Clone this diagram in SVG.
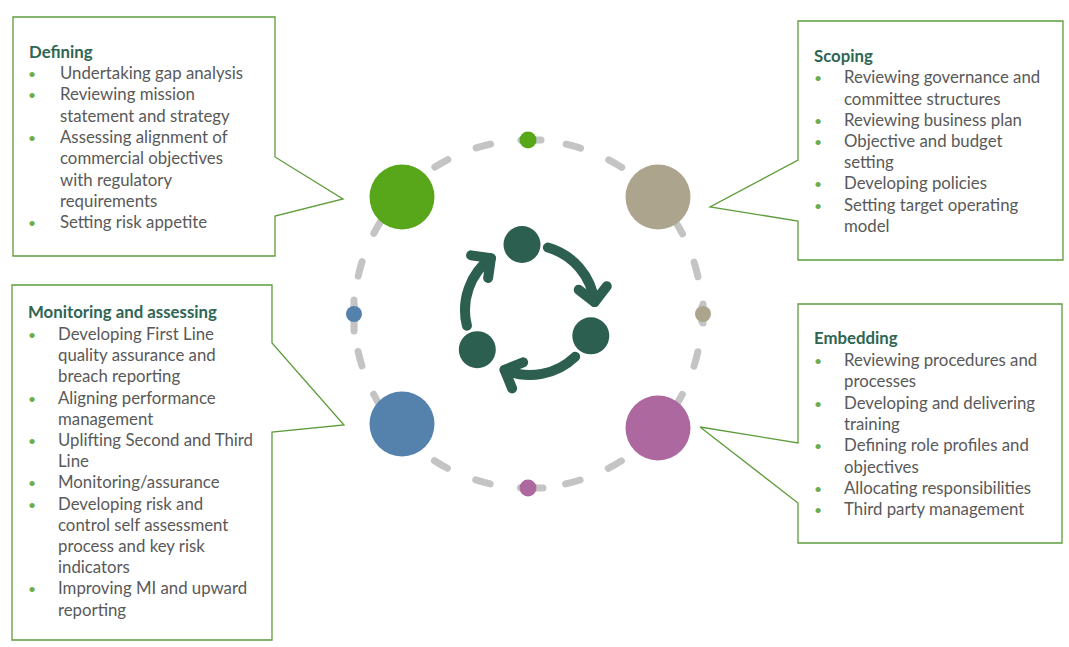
<svg xmlns="http://www.w3.org/2000/svg" xmlns:xlink="http://www.w3.org/1999/xlink" width="1069" height="647" viewBox="0 0 1069 647">
<style>
.box{fill:#ffffff;stroke:#5e9c3b;stroke-width:1.3}
.t{font-family:Lato,"Liberation Sans",sans-serif;font-size:16.8px;fill:#595959}
.h{font-family:Lato,"Liberation Sans",sans-serif;font-size:16.8px;font-weight:bold;fill:#2e6553}
.b{font-family:Lato,"Liberation Sans",sans-serif;font-size:14px;fill:#70ad47}
.ring{fill:none;stroke:#c4c4c4;stroke-width:7;stroke-linecap:round;stroke-dasharray:15 30.553;stroke-dashoffset:7.5}
.cap{stroke:#c4c4c4;stroke-width:7;stroke-linecap:round}
.ic{fill:none;stroke:#2c5f4f;stroke-width:10;stroke-linecap:round;stroke-linejoin:round}
</style>
<defs>
<g id="arrowArc">
<path class="ic" d="M547.9,247.5 A65,65 0 0 1 594.5,302.1"/>
<path class="ic" d="M606.8,286.3 L594.5,302.1 L578.7,289.8"/>
</g>
</defs>
<rect width="1069" height="647" fill="#ffffff"/>

<g id="connectors">
<circle class="ring" cx="528" cy="314" r="174"/>
<line class="cap" x1="529" y1="140" x2="541" y2="140"/>
<line class="cap" x1="529" y1="488" x2="543" y2="488"/>
<line class="cap" x1="354" y1="300" x2="354" y2="331"/>
<line class="cap" x1="703" y1="304" x2="703" y2="323"/>
</g>

<g id="cycle-icon">
<use xlink:href="#arrowArc"/>
<use xlink:href="#arrowArc" transform="rotate(120 530 310)"/>
<use xlink:href="#arrowArc" transform="rotate(240 530 310)"/>
<circle cx="522" cy="244.5" r="18.5" fill="#2c5f4f"/>
<circle cx="590.8" cy="335.8" r="18.5" fill="#2c5f4f"/>
<circle cx="477.3" cy="349.7" r="18.5" fill="#2c5f4f"/>
</g>

<g id="node-defining-circle">
<circle cx="402" cy="197" r="32.5" fill="#58a619"/>
<circle cx="528" cy="140" r="8.5" fill="#58a619"/>
</g>
<g id="node-scoping-circle">
<circle cx="658" cy="197" r="32.5" fill="#aca48d"/>
<circle cx="703" cy="314" r="8" fill="#aca48d"/>
</g>
<g id="node-monitoring-circle">
<circle cx="402" cy="424" r="32.5" fill="#5582ad"/>
<circle cx="354" cy="314" r="8" fill="#5582ad"/>
</g>
<g id="node-embedding-circle">
<circle cx="658" cy="428" r="32.5" fill="#ad689f"/>
<circle cx="528" cy="488" r="8.5" fill="#ad689f"/>
</g>

<g id="node-defining">
<polygon class="box" points="13,17 275,17 275,157 343,199 275,216 275,256 13,256"/>
<text class="h" x="29" y="57.5">Defining</text>
<text class="b" x="28" y="79">•</text><text class="t" x="60" y="79">Undertaking gap analysis</text>
<text class="b" x="28" y="100.3">•</text><text class="t" x="60" y="100.3">Reviewing mission</text>
<text class="t" x="60" y="121.6">statement and strategy</text>
<text class="b" x="28" y="142.9">•</text><text class="t" x="60" y="142.9">Assessing alignment of</text>
<text class="t" x="60" y="164.2">commercial objectives</text>
<text class="t" x="60" y="185.5">with regulatory</text>
<text class="t" x="60" y="206.8">requirements</text>
<text class="b" x="28" y="228.1">•</text><text class="t" x="60" y="228.1">Setting risk appetite</text>
</g>

<g id="node-scoping">
<polygon class="box" points="798,21 1063,21 1063,260 798,260 798,221 710,207 798,160"/>
<text class="h" x="814" y="61.7">Scoping</text>
<text class="b" x="814" y="83.3">•</text><text class="t" x="844" y="83.3">Reviewing governance and</text>
<text class="t" x="844" y="104.5">committee structures</text>
<text class="b" x="814" y="125.7">•</text><text class="t" x="844" y="125.7">Reviewing business plan</text>
<text class="b" x="814" y="146.9">•</text><text class="t" x="844" y="146.9">Objective and budget</text>
<text class="t" x="844" y="168.1">setting</text>
<text class="b" x="814" y="189.3">•</text><text class="t" x="844" y="189.3">Developing policies</text>
<text class="b" x="814" y="210.5">•</text><text class="t" x="844" y="210.5">Setting target operating</text>
<text class="t" x="844" y="231.7">model</text>
</g>

<g id="node-monitoring">
<polygon class="box" points="12,285 272,285 272,343 344,425 272,432 272,640 12,640"/>
<text class="h" x="28" y="318.3">Monitoring and assessing</text>
<text class="b" x="28" y="340">•</text><text class="t" x="58" y="340">Developing First Line</text>
<text class="t" x="58" y="361.2">quality assurance and</text>
<text class="t" x="58" y="382.4">breach reporting</text>
<text class="b" x="28" y="403.6">•</text><text class="t" x="58" y="403.6">Aligning performance</text>
<text class="t" x="58" y="424.8">management</text>
<text class="b" x="28" y="446">•</text><text class="t" x="58" y="446">Uplifting Second and Third</text>
<text class="t" x="58" y="467.2">Line</text>
<text class="b" x="28" y="488.4">•</text><text class="t" x="58" y="488.4">Monitoring/assurance</text>
<text class="b" x="28" y="509.6">•</text><text class="t" x="58" y="509.6">Developing risk and</text>
<text class="t" x="58" y="530.8">control self assessment</text>
<text class="t" x="58" y="552">process and key risk</text>
<text class="t" x="58" y="573.2">indicators</text>
<text class="b" x="28" y="594.4">•</text><text class="t" x="58" y="594.4">Improving MI and upward</text>
<text class="t" x="58" y="615.6">reporting</text>
</g>

<g id="node-embedding">
<polygon class="box" points="798,304 1062,304 1062,543 798,543 798,503 700,427 798,443"/>
<text class="h" x="814" y="344.3">Embedding</text>
<text class="b" x="814" y="366">•</text><text class="t" x="844" y="366">Reviewing procedures and</text>
<text class="t" x="844" y="387.3">processes</text>
<text class="b" x="814" y="408.6">•</text><text class="t" x="844" y="408.6">Developing and delivering</text>
<text class="t" x="844" y="429.9">training</text>
<text class="b" x="814" y="451.2">•</text><text class="t" x="844" y="451.2">Defining role profiles and</text>
<text class="t" x="844" y="472.5">objectives</text>
<text class="b" x="814" y="493.8">•</text><text class="t" x="844" y="493.8">Allocating responsibilities</text>
<text class="b" x="814" y="515.1">•</text><text class="t" x="844" y="515.1">Third party management</text>
</g>
</svg>
